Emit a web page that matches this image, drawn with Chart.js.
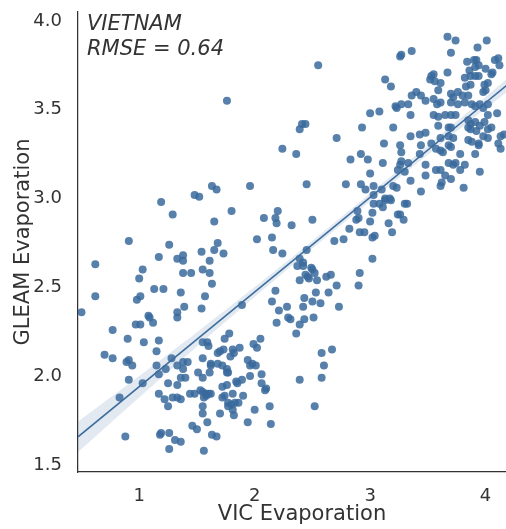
<!DOCTYPE html>
<html>
<head>
<meta charset="utf-8">
<script src="https://cdn.jsdelivr.net/npm/chart.js@4"></script>
<style>
  html, body { margin: 0; padding: 0; background: #fff; overflow: hidden; }
  canvas { display: block; }
</style>
</head>
<body>
<!-- the original axes run a little past the right edge of the picture, so the canvas is wider than the window -->
<canvas id="evapChart" width="530" height="529"></canvas>
<script>
// VIC vs GLEAM evaporation
const vicGleamPairs = [
  [1.19,2.98],[1.29,2.91],[0.91,2.76],[1.26,2.74],[0.62,2.63],[1.17,2.67],[1.33,2.66],[1.38,2.68],[1.38,2.65],[1.03,2.60],
  [1.00,2.55],[1.38,2.58],[1.13,2.49],[1.21,2.49],[1.36,2.47],[0.62,2.45],[1.01,2.45],[0.98,2.43],[0.50,2.36],[1.39,2.39],
  [1.33,2.36],[1.33,2.33],[1.08,2.34],[1.09,2.33],
  [0.97,2.29],[1.01,2.29],[1.12,2.30],[0.77,2.26],[0.90,2.21],[1.04,2.19],[1.17,2.20],[1.15,2.14],[0.70,2.12],[0.77,2.10],
  [0.89,2.08],[0.91,2.09],[0.94,2.06],[1.15,2.06],[1.28,2.10],[1.33,2.06],[1.38,2.08],[1.38,2.04],[1.23,2.04],[1.17,2.01],
  [1.36,1.99],[1.40,1.99],[0.91,1.98],[1.03,1.96],[1.25,1.96],[1.33,1.95],[1.17,1.90],[1.22,1.87],[1.29,1.88],[1.33,1.88],
  [1.36,1.87],[1.25,1.83],[0.83,1.88],[0.88,1.66],[1.18,1.67],[1.19,1.68],[1.26,1.68],[1.31,1.64],[1.36,1.63],[1.26,1.59],
  [1.76,3.55],[2.24,3.28],[2.36,3.25],[1.63,3.07],[1.67,3.05],[1.96,3.07],[1.48,3.02],[1.52,3.01],[1.80,2.93],[2.20,2.93],
  [1.65,2.87],[2.08,2.89],[2.18,2.89],[2.19,2.86],[2.32,2.85],[2.02,2.77],[2.15,2.78],[1.68,2.75],
  [1.54,2.70],[1.65,2.71],[1.73,2.69],[1.61,2.65],[1.45,2.58],[1.55,2.60],[1.61,2.58],[1.63,2.52],[1.57,2.45],[1.54,2.38],
  [2.16,2.71],[2.24,2.69],[2.18,2.48],[2.15,2.42],[2.21,2.37],[2.28,2.39],[2.29,2.33],[2.19,2.30],[2.36,2.24],[1.89,2.40],
  [1.78,2.24],[1.74,2.21],[1.55,2.19],[1.59,2.19],[1.60,2.17],[1.68,2.13],[1.70,2.14],[1.73,2.15],[1.81,2.15],[1.82,2.13],
  [1.87,2.16],[1.99,2.18],[2.02,2.16],[2.05,2.21],[1.42,2.08],[1.55,2.10],[1.62,2.07],[1.62,2.06],[1.68,2.07],[1.72,2.06],
  [1.76,2.04],[1.79,2.11],[1.94,2.09],[1.98,2.07],[2.01,2.06],[1.96,2.06],[1.51,2.02],[1.55,1.99],[1.61,2.02],[1.76,2.02],
  [1.77,2.02],[1.89,1.98],[1.84,1.97],[1.85,1.96],[1.96,2.00],[2.06,2.01],[2.06,1.96],[2.10,1.93],[2.09,1.92],
  [1.44,1.90],[1.48,1.90],[1.53,1.92],[1.55,1.91],[1.58,1.90],[1.60,1.90],[1.62,1.90],[1.56,1.88],[1.58,1.89],[1.72,1.94],
  [1.76,1.95],[1.81,1.90],[1.74,1.89],[1.90,1.89],[1.72,1.88],[1.77,1.85],[1.80,1.84],[1.77,1.83],[1.81,1.81],[1.83,1.85],
  [1.86,1.85],[1.82,1.78],[1.55,1.83],[1.55,1.79],[1.70,1.79],[2.00,1.81],[2.13,1.83],[1.59,1.74],[1.46,1.72],[1.50,1.70],
  [1.94,1.74],[2.14,1.73],[1.63,1.67],[1.67,1.66],[1.56,1.58],
  [3.26,3.80],[2.55,3.75],[3.13,3.67],[3.18,3.63],[3.00,3.48],[3.08,3.49],[3.22,3.52],[3.23,3.51],[2.39,3.39],[2.41,3.42],
  [2.44,3.42],[2.93,3.40],[3.20,3.40],[2.71,3.34],[3.12,3.31],[2.83,3.22],[2.92,3.25],[2.98,3.22],[3.11,3.20],[3.00,3.14],
  [3.24,3.16],[2.45,3.08],[2.79,3.08],[2.92,3.08],[2.96,3.05],[3.03,3.07],[3.10,3.05],[3.20,3.07],[3.23,3.06],[3.03,3.02],
  [3.13,3.00],[3.17,3.00],
  [2.50,2.88],[3.03,2.97],[3.08,2.97],[3.11,2.95],[3.13,2.99],[3.18,2.99],[3.02,2.92],[3.00,2.87],[3.16,2.86],[3.19,2.81],
  [3.24,2.91],[2.89,2.93],[2.88,2.88],[2.90,2.89],[2.82,2.83],[2.91,2.81],[2.95,2.81],[3.02,2.78],[3.04,2.79],[2.77,2.77],
  [2.69,2.76],[2.45,2.71],[3.02,2.66],[2.39,2.66],[2.42,2.64],[2.37,2.62],[2.42,2.62],[2.49,2.61],[2.50,2.60],[2.52,2.58],
  [2.44,2.57],[2.46,2.56],[2.47,2.55],[2.91,2.58],[2.62,2.56],[2.66,2.57],[2.39,2.54],[2.54,2.54],[2.71,2.51],[2.90,2.51],
  [2.53,2.47],[2.64,2.47],[2.43,2.44],[2.50,2.42],[2.57,2.41],[2.42,2.39],[2.73,2.39],[2.31,2.32],[2.43,2.32],[2.51,2.33],
  [2.39,2.29],[2.58,2.13],[2.67,2.15],[2.60,2.06],[2.39,1.98],[2.58,1.99],[2.52,1.83],
  [3.67,3.91],[3.74,3.89],[4.01,3.89],[3.93,3.85],[3.27,3.81],[3.36,3.83],[3.70,3.82],[4.11,3.79],[4.08,3.78],[4.12,3.75],
  [3.84,3.77],[3.90,3.78],[3.92,3.78],[3.86,3.72],[3.91,3.74],[3.94,3.75],[4.00,3.73],[4.05,3.70],[4.06,3.71],[3.67,3.71],
  [3.53,3.69],[3.55,3.70],[3.52,3.67],[3.56,3.66],[3.61,3.65],[3.82,3.68],[3.87,3.69],[3.91,3.69],[3.94,3.69],[3.99,3.64],
  [4.02,3.65],[3.87,3.64],[3.83,3.63],[3.59,3.61],[3.40,3.60],[3.44,3.58],[3.36,3.58],[3.70,3.59],[3.72,3.57],[3.76,3.60],
  [3.80,3.58],[3.85,3.58],[3.98,3.60],[4.00,3.61],[3.48,3.55],[3.55,3.56],[3.61,3.54],[3.58,3.53],[3.33,3.53],[3.27,3.53],
  [3.70,3.54],[3.76,3.53],[3.82,3.54],[3.88,3.53],[3.95,3.53],[3.91,3.52],[3.98,3.51],[4.02,3.53],
  [3.35,3.47],[3.55,3.47],[3.59,3.46],[3.65,3.47],[3.70,3.47],[3.74,3.47],[3.85,3.44],[3.87,3.42],[3.91,3.43],[3.95,3.41],
  [3.99,3.43],[4.02,3.47],[4.10,3.48],[3.59,3.41],[3.68,3.40],[3.70,3.40],[3.85,3.40],[3.87,3.39],[3.92,3.38],[4.02,3.39],
  [4.05,3.40],[3.43,3.36],[3.48,3.37],[3.35,3.35],[4.13,3.35],[4.16,3.36],[3.98,3.35],[4.02,3.34],[3.61,3.34],[3.68,3.35],
  [3.72,3.34],[3.85,3.33],[3.88,3.32],[3.94,3.31],[3.94,3.30],[3.26,3.30],[3.44,3.30],[3.53,3.31],[3.68,3.30],[3.70,3.29],
  [3.57,3.28],[3.61,3.27],[3.63,3.26],[4.11,3.31],[4.13,3.28],[3.27,3.26],[3.43,3.25],[3.78,3.25],[3.91,3.25],[3.27,3.21],
  [3.26,3.19],[3.33,3.20],[3.48,3.19],[3.68,3.20],[3.72,3.19],[3.74,3.20],[3.82,3.19],[3.57,3.16],[3.61,3.16],[3.78,3.16],
  [3.95,3.15],[3.30,3.15],[3.48,3.13],[3.65,3.13],[3.70,3.11],[3.62,3.09],[3.61,3.07],[3.35,3.10],[3.81,3.06],[3.44,3.04],
  [3.30,2.97],[3.32,2.97],[3.26,2.91],[3.29,2.88]
];

// regression line and its confidence band
const fitX = [0.47, 4.35];
const fitY = [1.658, 3.726];
const bandX = [0.47, 1.0, 1.5, 2.0, 2.5, 3.0, 3.5, 4.0, 4.35];
const bandUpper = [1.743, 2.000, 2.247, 2.501, 2.762, 3.028, 3.299, 3.572, 3.766];
const bandLower = [1.573, 1.880, 2.167, 2.445, 2.718, 2.984, 3.247, 3.506, 3.686];

const xTicks = [1, 2, 3, 4];
const yTicks = [1.5, 2.0, 2.5, 3.0, 3.5, 4.0];
const annotationLines = ['VIETNAM', 'RMSE = 0.64'];

const FONT = "'DejaVu Sans', sans-serif";
const TEXT_COLOR = '#333333';
const BLUE = '#3d6d9e';

// italic label in the top-left corner of the plot
const cornerText = {
  id: 'cornerText',
  afterDraw(chart) {
    const ctx = chart.ctx;
    const area = chart.chartArea;
    ctx.save();
    ctx.font = 'italic 21px ' + FONT;
    ctx.fillStyle = TEXT_COLOR;
    ctx.textAlign = 'left';
    ctx.textBaseline = 'alphabetic';
    annotationLines.forEach((line, i) => {
      ctx.fillText(line, area.left + 9, area.top + 18 + i * 25);
    });
    ctx.restore();
  }
};

const ctx = document.getElementById('evapChart').getContext('2d');
new Chart(ctx, {
  type: 'scatter',
  data: {
    datasets: [
      {
        type: 'line',
        data: fitX.map((x, i) => ({ x: x, y: fitY[i] })),
        borderColor: BLUE,
        borderWidth: 1.6,
        pointRadius: 0,
        fill: false
      },
      {
        type: 'line',
        data: bandX.map((x, i) => ({ x: x, y: bandUpper[i] })),
        borderWidth: 0,
        borderColor: 'rgba(0,0,0,0)',
        backgroundColor: 'rgba(74,119,166,0.16)',
        pointRadius: 0,
        tension: 0.3,
        fill: '+1'
      },
      {
        type: 'line',
        data: bandX.map((x, i) => ({ x: x, y: bandLower[i] })),
        borderWidth: 0,
        borderColor: 'rgba(0,0,0,0)',
        pointRadius: 0,
        tension: 0.3,
        fill: false
      },
      {
        data: vicGleamPairs.map(p => ({ x: p[0], y: p[1] })),
        backgroundColor: 'rgba(58,106,156,0.85)',
        borderWidth: 0,
        pointRadius: 4
      }
    ]
  },
  options: {
    responsive: false,
    animation: false,
    layout: { padding: { top: 12, right: 0, left: 0, bottom: 0 } },
    plugins: { legend: { display: false }, tooltip: { enabled: false } },
    scales: {
      x: {
        type: 'linear',
        min: 0.47,
        max: 4.35,
        grid: { display: false },
        border: { display: true, color: '#333333', width: 1.25 },
        afterBuildTicks: s => { s.ticks = xTicks.map(v => ({ value: v })); },
        afterFit: s => { s.height = 57; s.paddingLeft = 0; s.paddingRight = 0; },
        ticks: {
          color: TEXT_COLOR,
          padding: 6,
          font: { family: FONT, size: 18 },
          callback: v => String(v)
        },
        title: {
          display: true,
          text: 'VIC Evaporation',
          color: TEXT_COLOR,
          font: { family: FONT, size: 21 },
          padding: { top: 4, bottom: 2 }
        }
      },
      y: {
        type: 'linear',
        min: 1.46,
        max: 4.05,
        grid: { display: false },
        border: { display: true, color: '#333333', width: 1.25 },
        afterBuildTicks: s => { s.ticks = yTicks.map(v => ({ value: v })); },
        afterFit: s => { s.width = 78; s.paddingTop = 0; s.paddingBottom = 0; },
        ticks: {
          color: TEXT_COLOR,
          padding: 8,
          font: { family: FONT, size: 18 },
          callback: v => v.toFixed(1)
        },
        title: {
          display: true,
          text: 'GLEAM Evaporation',
          color: TEXT_COLOR,
          font: { family: FONT, size: 21 },
          padding: { top: 11, bottom: 4 }
        }
      }
    }
  },
  plugins: [cornerText]
});
</script>
</body>
</html>
